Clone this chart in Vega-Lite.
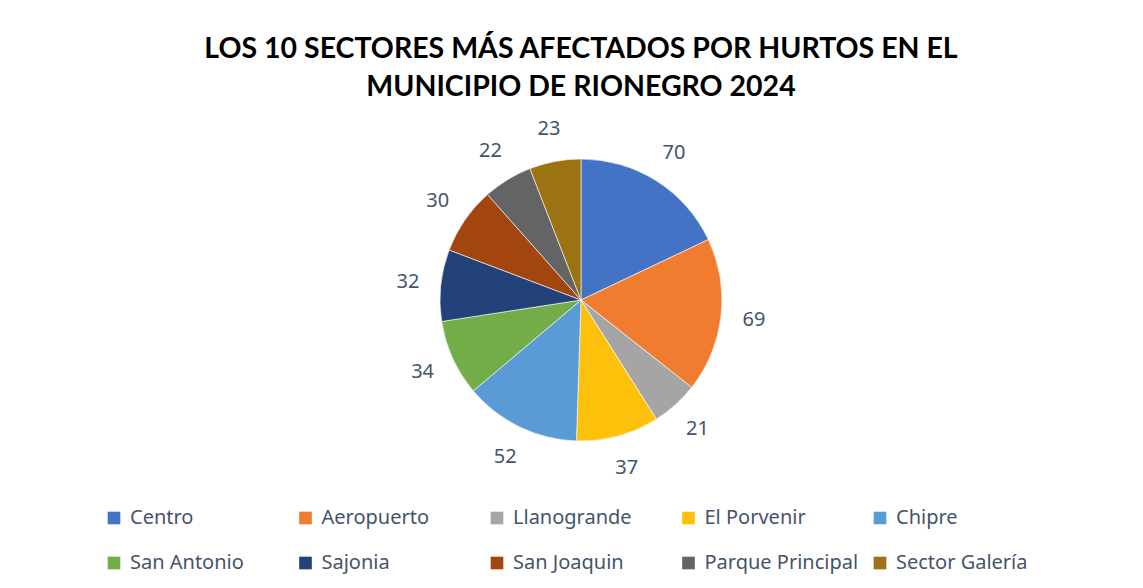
{
  "$schema": "https://vega.github.io/schema/vega-lite/v6.json",
  "width": 1124,
  "height": 390,
  "autosize": {"type": "none"},
  "padding": {"left": 19, "top": 105, "right": 0, "bottom": 93},
  "background": "white",
  "title": {
    "text": ["LOS 10 SECTORES MÁS AFECTADOS POR HURTOS EN EL", "MUNICIPIO DE RIONEGRO 2024"],
    "anchor": "middle",
    "font": "Lato",
    "fontSize": 28.5,
    "fontWeight": "bold",
    "color": "#000000",
    "lineHeight": 38,
    "offset": 4
  },
  "data": {
    "values": [
      {"sector": "Centro", "hurtos": 70, "orden": 1},
      {"sector": "Aeropuerto", "hurtos": 69, "orden": 2},
      {"sector": "Llanogrande", "hurtos": 21, "orden": 3},
      {"sector": "El Porvenir", "hurtos": 37, "orden": 4},
      {"sector": "Chipre", "hurtos": 52, "orden": 5},
      {"sector": "San Antonio", "hurtos": 34, "orden": 6},
      {"sector": "Sajonia", "hurtos": 32, "orden": 7},
      {"sector": "San Joaquin", "hurtos": 30, "orden": 8},
      {"sector": "Parque Principal", "hurtos": 22, "orden": 9},
      {"sector": "Sector Galería", "hurtos": 23, "orden": 10}
    ]
  },
  "encoding": {
    "theta": {"field": "hurtos", "type": "quantitative", "stack": true},
    "order": {"field": "orden", "type": "quantitative"},
    "color": {
      "field": "sector",
      "type": "nominal",
      "sort": ["Centro", "Aeropuerto", "Llanogrande", "El Porvenir", "Chipre", "San Antonio", "Sajonia", "San Joaquin", "Parque Principal", "Sector Galería"],
      "scale": {
        "domain": ["Centro", "Aeropuerto", "Llanogrande", "El Porvenir", "Chipre", "San Antonio", "Sajonia", "San Joaquin", "Parque Principal", "Sector Galería"],
        "range": ["#4472C4", "#F07C30", "#A5A5A5", "#FDC00B", "#5B9BD5", "#72AD48", "#24427A", "#A2450F", "#646464", "#9C7312"]
      },
      "legend": {
        "title": null,
        "orient": "none",
        "legendX": 85,
        "legendY": 403,
        "direction": "horizontal",
        "columns": 5,
        "gridAlign": "all",
        "symbolType": "square",
        "symbolSize": 160,
        "symbolStrokeWidth": 0,
        "labelFont": "Noto Sans",
        "labelFontSize": 20,
        "labelColor": "#44546A",
        "labelOffset": 6,
        "labelLimit": 300,
        "columnPadding": 11.5,
        "rowPadding": 25
      }
    }
  },
  "layer": [
    {
      "mark": {"type": "arc", "outerRadius": 141, "stroke": "#ffffff", "strokeWidth": 0.6}
    },
    {
      "mark": {"type": "text", "radius": 174, "font": "Noto Sans", "fontSize": 20, "color": "#44546A"},
      "encoding": {
        "text": {"field": "hurtos", "type": "quantitative"},
        "color": {"value": "#44546A"}
      }
    }
  ]
}
